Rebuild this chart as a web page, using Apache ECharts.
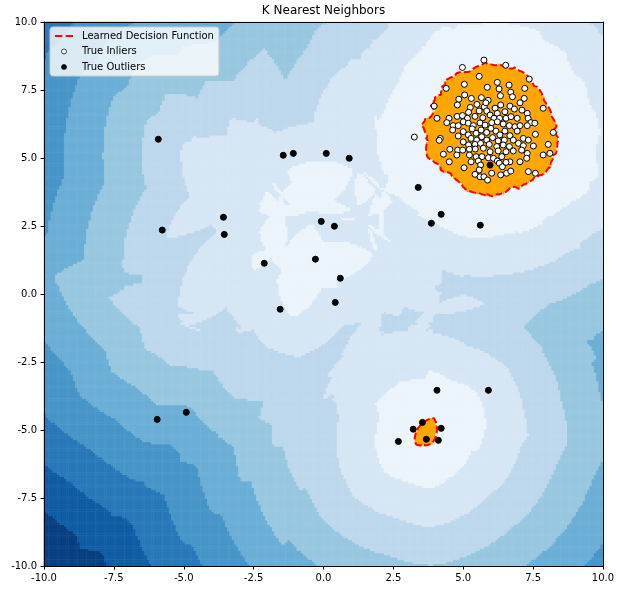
<!DOCTYPE html>
<html><head><meta charset="utf-8">
<script src="https://cdn.jsdelivr.net/npm/echarts@6.0.0/dist/echarts.min.js"></script>
<style>html,body{margin:0;padding:0;background:#fff}#c{width:620px;height:590px}</style>
</head><body><div id="c"></div>
<script>
const chartTitle = 'K Nearest Neighbors';
const legendNames = ['Learned Decision Function', 'True Inliers', 'True Outliers'];
const tickValues = [-10, -7.5, -5, -2.5, 0, 2.5, 5, 7.5, 10];

const inliers = [
[5.74,8.60],[4.97,8.33],[6.52,8.41],[5.57,8.00],[7.36,7.90],[4.39,7.56],[5.04,7.71],[5.86,7.60],[6.22,7.78],[6.64,7.68],
[6.28,7.54],[7.20,7.56],[6.33,7.29],[6.70,7.42],[5.05,7.32],[4.84,7.16],[5.29,7.19],[5.65,7.22],[5.89,7.12],[6.76,7.25],
[7.18,7.19],[3.96,6.91],[4.79,6.95],[5.25,6.86],[5.49,6.97],[5.75,6.88],[5.81,7.03],[6.34,6.95],[6.67,6.91],[7.03,7.03],
[7.86,6.83],[5.19,6.68],[5.57,6.73],[5.84,6.73],[6.14,6.83],[6.22,6.64],[6.49,6.70],[6.83,6.80],[7.10,6.76],[7.29,6.64],
[4.06,6.46],[4.49,6.46],[4.78,6.53],[4.97,6.56],[5.15,6.46],[5.42,6.53],[5.70,6.48],[5.96,6.58],[6.10,6.46],[6.30,6.46],
[6.53,6.46],[6.71,6.52],[6.93,6.46],[7.32,6.46],[7.42,6.30],[7.56,6.28],[4.41,6.30],[4.64,6.19],[4.82,6.19],[5.00,6.33],
[5.18,6.28],[5.36,6.19],[5.60,6.29],[5.78,6.21],[6.02,6.30],[6.22,6.33],[6.43,6.25],[6.65,6.19],[6.85,6.15],[7.03,6.19],
[7.29,6.19],[7.58,5.87],[8.22,5.94],[4.62,6.03],[4.82,5.81],[5.00,5.97],[5.18,5.85],[5.32,6.07],[5.46,5.91],[5.64,6.03],
[5.84,5.94],[5.99,6.09],[6.17,5.99],[6.31,5.85],[6.49,5.99],[6.67,5.82],[6.93,5.99],[7.15,5.72],[7.33,5.66],[4.18,5.72],
[4.14,5.65],[5.28,5.72],[5.48,5.66],[5.66,5.78],[5.84,5.66],[6.05,5.75],[6.25,5.63],[6.47,5.66],[6.79,5.66],[6.97,5.54],
[5.00,5.59],[5.19,5.48],[5.42,5.50],[5.62,5.54],[5.93,5.50],[6.20,5.42],[6.43,5.48],[6.65,5.42],[7.15,5.45],[7.51,5.44],
[8.04,5.50],[4.52,5.32],[4.80,5.29],[4.98,5.29],[5.22,5.32],[5.43,5.33],[5.72,5.36],[5.96,5.23],[6.25,5.26],[6.53,5.23],
[6.79,5.26],[7.09,5.29],[7.29,5.17],[4.29,5.14],[4.77,5.11],[5.22,5.11],[5.46,5.05],[5.67,5.05],[5.90,5.01],[6.08,4.99],
[6.38,5.05],[6.67,4.86],[7.03,4.86],[7.27,4.99],[7.86,5.11],[8.10,5.17],[4.50,4.86],[5.03,4.64],[5.28,4.86],[5.54,4.89],
[5.62,4.74],[6.22,4.89],[6.29,4.81],[6.40,4.68],[6.53,4.84],[5.57,4.56],[6.02,4.44],[6.55,4.44],[6.70,4.52],[7.33,4.50],
[7.58,4.44],[5.42,4.40],[5.60,4.31],[5.74,4.31],[5.87,4.19],[6.34,4.38],[3.25,5.77]
];

const outliers = [
[-5.91,5.69],[-1.44,5.10],[-1.08,5.17],[0.10,5.17],[0.92,4.99],[-3.58,2.82],[-3.55,2.19],[-5.77,2.35],[-0.08,2.67],[0.39,2.49],
[-2.12,1.13],[-0.29,1.28],[0.60,0.58],[0.42,-0.31],[-1.55,-0.56],[5.96,4.74],[3.39,3.92],[4.21,2.93],[3.86,2.60],[5.61,2.53],
[4.06,-3.54],[5.90,-3.54],[2.68,-5.42],[3.21,-4.97],[3.54,-4.72],[3.68,-5.34],[4.11,-5.38],[4.21,-4.94],[-5.95,-4.61],[-4.91,-4.35]
];

const nNeighbors = 5;
const thresholdDist = 0.85;
const nLevels = 10;
const bandColors = ['#083f81','#105ca4','#2878b9','#4795c8','#6baed6','#98c7e0','#bdd7ec','#d6e6f4','#ecf4fb'];
const regionColor = '#ffa500';

// ---- decision function field (distance to k-th nearest training point) ----
const N = 250, H = 20 / N;
const pts = inliers.concat(outliers);
function kthDist(x, y) {
  const best = new Array(nNeighbors).fill(Infinity);
  for (let p = 0; p < pts.length; p++) {
    const dx = pts[p][0] - x, dy = pts[p][1] - y, d = dx * dx + dy * dy;
    if (d < best[nNeighbors - 1]) {
      let k = nNeighbors - 1;
      while (k > 0 && best[k - 1] > d) { best[k] = best[k - 1]; k--; }
      best[k] = d;
    }
  }
  return Math.sqrt(best[nNeighbors - 1]);
}
const cx = i => -10 + (i + 0.5) * H;
const F = new Float64Array(N * N);
let dmax = 0;
for (let j = 0; j < N; j++) for (let i = 0; i < N; i++) {
  const d = kthDist(cx(i), cx(j));
  F[j * N + i] = d;
  if (d > dmax) dmax = d;
}
const step = (dmax - thresholdDist) / (nLevels - 1);
const heatData = [];
for (let j = 0; j < N; j++) for (let i = 0; i < N; i++) {
  const d = F[j * N + i];
  let b;
  if (d <= thresholdDist) b = nLevels - 1;
  else b = Math.min(nLevels - 2, Math.floor((dmax - d) / step));
  heatData.push([i, j, b]);
}
const cats = Array.from({ length: N }, (_, i) => i);

// ---- marching squares for threshold contour ----
const pmap = {};
const segs = [];
function cross(key, ia, ja, ib, jb) {
  if (!(key in pmap)) {
    const va = F[ja * N + ia], vb = F[jb * N + ib];
    const t = (thresholdDist - va) / (vb - va);
    pmap[key] = [cx(ia) + t * (cx(ib) - cx(ia)), cx(ja) + t * (cx(jb) - cx(ja))];
  }
  return key;
}
for (let j = 0; j < N - 1; j++) for (let i = 0; i < N - 1; i++) {
  const v = [F[j * N + i], F[j * N + i + 1], F[(j + 1) * N + i + 1], F[(j + 1) * N + i]];
  const inn = v.map(a => a < thresholdDist);
  const edges = [
    [inn[0] !== inn[1], () => cross('h' + i + '_' + j, i, j, i + 1, j)],
    [inn[1] !== inn[2], () => cross('v' + (i + 1) + '_' + j, i + 1, j, i + 1, j + 1)],
    [inn[3] !== inn[2], () => cross('h' + i + '_' + (j + 1), i, j + 1, i + 1, j + 1)],
    [inn[0] !== inn[3], () => cross('v' + i + '_' + j, i, j, i, j + 1)]
  ];
  const c = edges.map((e, k) => e[0] ? k : -1).filter(k => k >= 0);
  if (c.length === 2) segs.push([edges[c[0]][1](), edges[c[1]][1]()]);
  else if (c.length === 4) {
    const centerIn = (v[0] + v[1] + v[2] + v[3]) / 4 < thresholdDist;
    const k = edges.map(e => e[1]());
    if (centerIn === inn[0]) { segs.push([k[0], k[1]]); segs.push([k[2], k[3]]); }
    else { segs.push([k[3], k[0]]); segs.push([k[1], k[2]]); }
  }
}
const adj = {};
segs.forEach((s, n) => { (adj[s[0]] = adj[s[0]] || []).push(n); (adj[s[1]] = adj[s[1]] || []).push(n); });
const used = new Array(segs.length).fill(false);
const chains = [];
function extend(chain) {
  while (true) {
    const last = chain[chain.length - 1];
    const nx = (adj[last] || []).find(n => !used[n]);
    if (nx === undefined) break;
    used[nx] = true;
    chain.push(segs[nx][0] === last ? segs[nx][1] : segs[nx][0]);
  }
}
for (let n = 0; n < segs.length; n++) {
  if (used[n]) continue;
  used[n] = true;
  const fwd = [segs[n][0], segs[n][1]];
  extend(fwd);
  const back = [segs[n][0]];
  extend(back);
  const chain = back.slice(1).reverse().concat(fwd);
  chains.push(chain.map(k => pmap[k]));
}

const fam = 'DejaVu Sans';
const lineSeries = chains.map(ch => ({
  type: 'line', name: legendNames[0], xAxisIndex: 1, yAxisIndex: 1,
  data: ch, symbol: 'none', showSymbol: false, silent: true, z: 3,
  lineStyle: { color: '#ff0000', width: 2, type: [7, 3] },
  itemStyle: { color: '#ff0000' }
}));

const valAxisCommon = {
  type: 'value', min: -10, max: 10, interval: 2.5, gridIndex: 1, z: 20,
  axisLine: { show: true, onZero: false, lineStyle: { color: '#000', width: 1 } },
  axisTick: { show: true, length: 3.5, lineStyle: { color: '#000', width: 1 } },
  axisLabel: { margin: 7, fontSize: 10, color: '#000', fontFamily: fam, formatter: v => v.toFixed(1) },
  splitLine: { show: false }
};
const frameAxis = {
  type: 'value', min: -10, max: 10, gridIndex: 1, z: 20,
  axisLine: { show: true, onZero: false, lineStyle: { color: '#000', width: 1 } },
  axisTick: { show: false }, axisLabel: { show: false }, splitLine: { show: false }
};

const dashIcon = 'path://M0,0H7.3V2H0Z M10.6,0H17.9V2H10.6Z';

const chart = echarts.init(document.getElementById('c'), null, { renderer: 'canvas' });
chart.setOption({
  animation: false,
  backgroundColor: '#fff',
  title: {
    text: chartTitle, left: 323.5, top: 5, textAlign: 'center', padding: 0,
    textStyle: { fontSize: 12, fontWeight: 'normal', color: '#000', fontFamily: fam }
  },
  legend: {
    orient: 'vertical', left: 50, top: 27, padding: [3, 5, 3, 5], itemGap: 3.5,
    itemWidth: 18, itemHeight: 5,
    backgroundColor: 'rgba(255,255,255,0.8)', borderColor: '#cccccc', borderWidth: 1, borderRadius: 3,
    textStyle: { fontSize: 10, color: '#000', fontFamily: fam, lineHeight: 12, padding: [0, 0, 0, 4] },
    data: [
      { name: legendNames[0], icon: dashIcon, itemStyle: { color: '#ff0000', borderWidth: 0 } },
      { name: legendNames[1], icon: 'circle', itemStyle: { color: '#ffffff', borderColor: '#000000', borderWidth: 0.7 } },
      { name: legendNames[2], icon: 'circle', itemStyle: { color: '#000000', borderColor: '#000000', borderWidth: 0.7 } }
    ],
    selectedMode: false
  },
  grid: [
    { left: 44, right: 17, top: 22, bottom: 24, outerBoundsMode: 'none' },
    { left: 44, right: 17, top: 22, bottom: 24, outerBoundsMode: 'none' }
  ],
  xAxis: [
    { type: 'category', data: cats, gridIndex: 0, show: false },
    Object.assign({}, valAxisCommon, { position: 'bottom' }),
    Object.assign({}, frameAxis, { position: 'top' })
  ],
  yAxis: [
    { type: 'category', data: cats, gridIndex: 0, show: false },
    Object.assign({}, valAxisCommon, { position: 'left' }),
    Object.assign({}, frameAxis, { position: 'right' })
  ],
  visualMap: {
    type: 'piecewise', show: false, seriesIndex: 0, dimension: 2,
    pieces: bandColors.map((c, k) => ({ value: k, color: c })).concat([{ value: nLevels - 1, color: regionColor }])
  },
  series: [
    { type: 'heatmap', xAxisIndex: 0, yAxisIndex: 0, data: heatData, progressive: 0, silent: true, z: 1,
      emphasis: { disabled: true } }
  ].concat(lineSeries).concat([
    { type: 'scatter', name: legendNames[1], xAxisIndex: 1, yAxisIndex: 1, data: inliers, symbolSize: 6, z: 4, silent: true,
      itemStyle: { color: '#ffffff', borderColor: '#000000', borderWidth: 1, opacity: 1 } },
    { type: 'scatter', name: legendNames[2], xAxisIndex: 1, yAxisIndex: 1, data: outliers, symbolSize: 6, z: 4, silent: true,
      itemStyle: { color: '#000000', borderColor: '#000000', borderWidth: 1, opacity: 1 } }
  ])
});
</script>
</body></html>
